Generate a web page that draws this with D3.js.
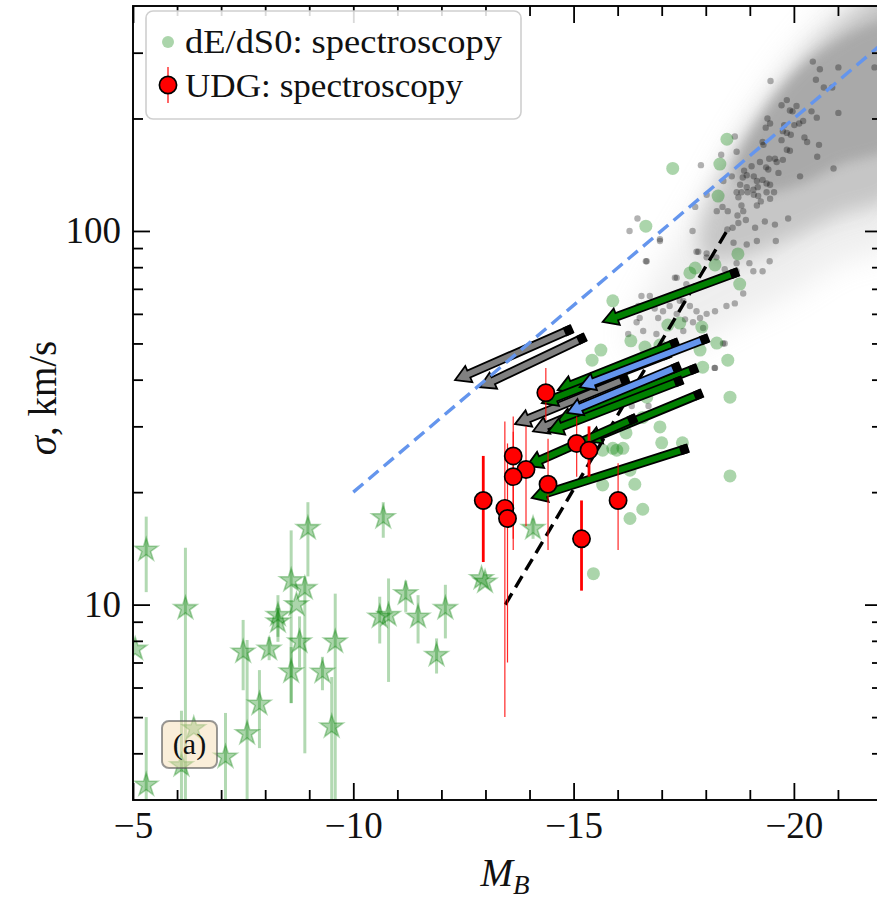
<!DOCTYPE html>
<html>
<head>
<meta charset="utf-8">
<script src="https://cdn.jsdelivr.net/npm/d3@7"></script>
<style>
  body { margin: 0; background: #fff; }
  text { font-family: "Liberation Serif", "DejaVu Serif", serif; fill: #111; }
</style>
</head>
<body>
<svg id="chart" width="877" height="899"></svg>
<script>
// ---------------- data ----------------
// Giant early-type galaxies (individual measurements): [M_B, sigma km/s]
const giantDots = [
  [-20.43,284],[-20.59,271],[-21.01,274],[-21.83,274],[-20.50,254],[-20.68,242],[-20.87,242],[-19.47,252],
  [-21.01,207],[-19.84,224],[-19.72,217],[-19.91,210],[-20.06,216],[-19.97,209],[-19.40,200],[-19.36,189],
  [-19.46,194],[-19.78,192],[-19.75,185],[-19.84,183],[-19.93,181],[-20.01,192],[-20.12,194],[-20.21,197],
  [-20.40,209],[-20.52,201],[-20.24,178],[-20.30,173],[-20.57,170],[-20.53,158],[-20.90,147],[-20.14,140],
  [-19.87,108],[-19.84,165],[-19.91,164],[-19.72,175],[-19.57,156],[-19.61,153],[-19.75,155],[-19.44,156],
  [-19.37,148],[-19.42,146],[-19.29,173],[-19.31,170],[-19.23,153],[-19.65,143],[-19.04,149],[-18.87,145],
  [-18.84,139],[-18.93,141],[-19.09,140],[-19.16,136],[-19.29,137],[-19.38,134],[-19.46,133],[-19.55,127],
  [-19.18,131],[-19.08,129],[-18.93,131],[-18.78,133],[-18.70,127],[-18.74,123],[-18.81,127],[-18.95,127],
  [-19.09,125],[-19.19,124],[-19.38,127],[-19.46,122],[-19.25,120],[-19.16,117],[-18.81,117],[-18.66,179],
  [-18.70,163],[-18.35,160],[-17.89,150],[-18.40,136],[-18.59,140],[-18.02,125],[-17.76,116],[-18.25,113],
  [-18.38,116],[-18.50,113],[-18.72,110],[-18.85,113],[-18.91,107],[-18.74,105],[-18.61,102],[-18.49,101],
  [-19.12,102],[-19.34,106],[-19.57,104],[-19.16,94],[-19.59,94],[-18.93,92],[-18.63,93],[-17.70,100],
  [-16.96,94],[-16.45,108],[-16.27,100],
  [-17.83,88],[-18.02,85],[-18.70,82],[-18.99,82],[-19.45,83],[-19.08,78],[-16.64,83],[-17.34,75],
  [-17.56,72],[-18.70,78],[-19.29,78],[-18.43,79],[-16.66,83],[-16.96,95],[-17.30,75],[-17.79,88],
  [-18.02,87],[-17.49,65],[-18.24,85],[-18.39,50],[-18.20,43],
  [-16.54,67],[-16.73,67],[-16.47,63],[-16.62,63],[-16.84,62],[-17.03,61],[-17.18,63],[-17.41,65],
  [-17.64,63],[-17.79,61],[-17.87,58.5],[-18.02,60],[-18.21,61],[-18.47,63],[-18.66,64],[-18.85,68],
  [-16.50,58.5],[-16.92,58.5],[-17.34,60],[-17.53,58],[-17.71,57],[-17.94,55],[-16.43,57],[-16.24,53],
  [-16.58,54],[-16.88,53],[-17.49,54],[-18.43,50],[-18.21,43],[-16.32,34],[-16.70,34]
];

// Density envelope of the large galaxy sample: outer haze, middle, core
const cloudOuter = [[-16.28,52.7],[-16.96,78.6],[-17.87,120],[-18.77,186],[-19.68,270],[-20.59,367],
  [-21.27,450],[-22.4,450],[-22.4,95],[-21.04,82],[-19.91,67.4],[-18.77,57.8],[-17.64,49.5],[-16.5,46.6]];
const cloudMiddle = [[-17.87,101],[-18.55,155],[-19.45,224],[-20.36,305],[-21.27,378],[-22.4,450],
  [-22.4,129],[-21.04,110],[-19.91,95],[-18.77,84],[-17.98,84]];
const cloudCore = [[-18.66,141],[-19.23,198],[-20.13,270],[-21.04,325],[-21.88,363],[-22.4,378],
  [-22.4,175],[-21.04,150],[-20.13,133],[-19.23,127]];

// dE/dS0 spectroscopy: [M_B, sigma]
const dEdS0 = [
  [-18.48,176],[-17.25,147],[-18.32,151],[-18.28,124],[-16.64,103],[-15.89,65.0],[-18.73,86.8],[-17.76,79.6],
  [-18.21,81.1],[-17.64,77.2],[-18.77,72.1],[-16.30,50.8],[-15.62,48.0],[-15.42,45.1],[-16.62,48.9],[-16.96,49.5],
  [-17.14,56.0],[-17.41,56.7],[-17.91,55.3],[-17.87,48.0],[-18.50,45.1],[-18.25,50.1],[-17.93,43.2],[-18.55,35.9],
  [-16.13,39.9],[-16.66,35.9],[-16.57,31.7],[-16.96,29.9],[-16.19,28.8],[-15.89,26.2],[-16.12,26.2],[-15.66,25.9],
  [-15.98,25.9],[-17.00,27.1],[-17.47,27.1],[-16.28,22.9],[-16.39,21.0],[-15.66,20.9],[-18.55,22.1],[-16.57,18.0],
  [-16.28,17.0],[-15.45,12.1]
];

// Dwarf spheroidals: [M_B, sigma, sigma_low, sigma_high] (null = no error bar)
const dwarfStars = [
  [-5.30,14.0,10.8,17.2],[-5.05,7.6,null,null],[-6.19,9.77,2.5,14.2],[-5.30,3.29,2.5,5.0],
  [-6.10,3.71,2.5,5.2],[-6.38,4.66,null,null],[-7.10,3.91,2.5,5.13],[-7.50,7.47,5.9,9.1],
  [-7.59,4.52,2.5,8.04],[-7.87,5.42,4.13,6.68],[-8.09,7.6,7.1,8.2],[-8.29,9.37,7.95,10.6],
  [-8.29,9.0,8.2,9.8],[-8.59,11.6,5.45,15.8],[-8.90,11.05,4.0,11.9],[-8.71,10.0,null,null],
  [-8.59,6.61,5.45,7.7],[-8.78,7.95,6.8,9.3],[-8.97,16.0,11.9,18.8],[-9.30,6.6,5.9,7.25],
  [-9.59,7.95,2.5,10.7],[-9.51,4.71,2.5,6.4],[-10.60,9.27,7.87,10.5],[-10.68,17.1,15.1,18.8],
  [-10.80,9.37,6.21,11.75],[-11.19,10.7,9.56,11.6],[-11.47,9.27,7.87,10.6],[-11.89,7.32,6.54,8.12],
  [-12.09,9.77,8.12,11.3],[-12.91,11.75,null,null],[-12.99,11.5,null,null],[-14.08,16.0,15.0,17.0]
];

// UDG spectroscopy: [M_B, sigma, sigma_low, sigma_high]
const udgSampleA = [
  [-14.37,36.9,31.2,43.0],[-13.63,25.0,14.0,31.9],[-13.92,23.0,16.2,30.0],[-13.63,22.0,15.0,29.0],
  [-13.44,18.1,5.0,30.9],[-13.50,17.0,7.0,27.0],[-14.42,21.0,14.0,27.8],[-15.07,27.0,22.0,31.9],
  [-16.01,19.0,14.0,23.9]
];
const udgSampleB = [
  [-12.95,19.0,13.0,25.0],[-15.35,25.9,22.0,30.0],[-15.18,15.0,10.9,19.0]
];

// Evolutionary tracks: [M_B start, sigma start, M_B end, sigma end]
const tracksGreen = [
  [-18.73,77.7,-15.66,57.1],[-17.37,50.4,-14.64,37.5],[-17.19,47.1,-14.28,34.6],[-17.80,43.0,-14.62,30.8],
  [-17.46,39.9,-14.42,29.0],[-17.91,36.8,-15.28,27.4],[-16.41,31.6,-13.94,23.5],[-17.59,26.2,-14.05,19.3]
];
const tracksGray = [
  [-14.96,54.7,-12.31,39.9],[-15.26,52.0,-12.87,38.2],[-16.23,40.4,-13.67,30.4],[-16.62,38.9,-14.08,29.1]
];
const tracksBlue = [
  [-18.05,51.7,-15.14,38.2],[-17.41,43.5,-14.85,32.6]
];

// Reference relations
const faberJackson = [[-10, 20.0], [-22, 317]];
const dwarfRelation = [[-13.45, 10.0], [-18.5, 101]];

// Axis ticks
const xMajor = [-5, -10, -15, -20];
const xMinor = d3.range(-6, -22, -1).filter(v => v % 5 !== 0);
const yMajor = [10, 100];
const yMinor = [4, 5, 6, 7, 8, 9, 20, 30, 40, 50, 60, 70, 80, 90, 200, 300];

// ---------------- scales ----------------
const svg = d3.select("#chart");
const L = 133, R = 882, T = 6, B = 800;
const x = d3.scaleLinear().domain([-5, -22]).range([L, R]);
const y = d3.scaleLog().domain([3, 400]).range([B, T]);

const defs = svg.append("defs");
defs.append("clipPath").attr("id", "plotClip")
  .append("rect").attr("x", L).attr("y", T).attr("width", R - L).attr("height", B - T);
[["blurOuter", 15], ["blurMid", 10], ["blurCore", 6]].forEach(([id, s]) => {
  defs.append("filter").attr("id", id)
    .attr("x", "-30%").attr("y", "-30%").attr("width", "160%").attr("height", "160%")
    .append("feGaussianBlur").attr("stdDeviation", s);
});

const plot = svg.append("g").attr("clip-path", "url(#plotClip)");
const poly = d3.line().x(d => x(d[0])).y(d => y(d[1])).curve(d3.curveCatmullRomClosed);

// gray cloud of large galaxies
plot.append("path").attr("d", poly(cloudOuter)).attr("fill", "#b4b4b4").attr("opacity", 0.22).attr("filter", "url(#blurOuter)");
plot.append("path").attr("d", poly(cloudMiddle)).attr("fill", "#acacac").attr("opacity", 0.6).attr("filter", "url(#blurMid)");
plot.append("path").attr("d", poly(cloudCore)).attr("fill", "#a8a8a8").attr("opacity", 0.95).attr("filter", "url(#blurCore)");

// individual giant galaxies
plot.append("g").selectAll("circle").data(giantDots).join("circle")
  .attr("cx", d => x(d[0])).attr("cy", d => y(d[1])).attr("r", 3.2)
  .attr("fill", "#000").attr("fill-opacity", 0.3);

// dE/dS0
plot.append("g").selectAll("circle").data(dEdS0).join("circle")
  .attr("cx", d => x(d[0])).attr("cy", d => y(d[1])).attr("r", 6.5)
  .attr("fill", "green").attr("fill-opacity", 0.33);

// dwarf spheroidals with error bars
plot.append("g").selectAll("line").data(dwarfStars.filter(d => d[2] !== null)).join("line")
  .attr("x1", d => x(d[0])).attr("x2", d => x(d[0]))
  .attr("y1", d => y(d[2])).attr("y2", d => y(d[3]))
  .attr("stroke", "green").attr("stroke-opacity", 0.3).attr("stroke-width", 3);
const star = d3.symbol(d3.symbolStar).size(165);
plot.append("g").selectAll("path").data(dwarfStars).join("path")
  .attr("d", star).attr("transform", d => `translate(${x(d[0])},${y(d[1])})`)
  .attr("fill", "green").attr("fill-opacity", 0.33)
  .attr("stroke", "green").attr("stroke-opacity", 0.32).attr("stroke-width", 1.6);

// dwarf relation (black dashed)
const seg = d3.line().x(d => x(d[0])).y(d => y(d[1]));
plot.append("path").attr("d", seg(dwarfRelation)).attr("fill", "none")
  .attr("stroke", "#000").attr("stroke-width", 3.4).attr("stroke-dasharray", "13,7");

// arrows
function arrowPath(t) {
  const x0 = x(t[0]), y0 = y(t[1]), x1 = x(t[2]), y1 = y(t[3]);
  const dx = x1 - x0, dy = y1 - y0, len = Math.hypot(dx, dy);
  const ux = dx / len, uy = dy / len, nx = -uy, ny = ux;
  const w = 3.8, hw = 8.8, hl = 15;
  const bx = x1 - ux * hl, by = y1 - uy * hl;
  const pts = [
    [x0 + nx * w, y0 + ny * w], [bx + nx * w, by + ny * w], [bx + nx * hw, by + ny * hw],
    [x1, y1], [bx - nx * hw, by - ny * hw], [bx - nx * w, by - ny * w], [x0 - nx * w, y0 - ny * w]
  ];
  return "M" + pts.map(p => p.join(",")).join("L") + "Z";
}
function drawTracks(data, color) {
  const g = plot.append("g");
  data.forEach(t => {
    g.append("path").attr("d", arrowPath(t)).attr("fill", color)
      .attr("stroke", "#000").attr("stroke-width", 1.8).attr("stroke-linejoin", "miter");
    const x0 = x(t[0]), y0 = y(t[1]), x1 = x(t[2]), y1 = y(t[3]);
    const len = Math.hypot(x1 - x0, y1 - y0);
    const ux = (x1 - x0) / len, uy = (y1 - y0) / len;
    g.append("line").attr("x1", x0).attr("y1", y0)
      .attr("x2", x0 + ux * 8).attr("y2", y0 + uy * 8)
      .attr("stroke", "#000").attr("stroke-width", 9.4);
  });
}
drawTracks(tracksGray, "#808080");
drawTracks(tracksGreen, "#008000");
drawTracks(tracksBlue, "#6495ED");

// Faber–Jackson relation (blue dashed)
plot.append("path").attr("d", seg(faberJackson)).attr("fill", "none")
  .attr("stroke", "#6495ED").attr("stroke-width", 3.4).attr("stroke-dasharray", "13,7");

// UDGs
function drawUDG(data, bw, op) {
  plot.append("g").selectAll("line").data(data).join("line")
    .attr("x1", d => x(d[0])).attr("x2", d => x(d[0]))
    .attr("y1", d => y(d[2])).attr("y2", d => y(d[3]))
    .attr("stroke", "red").attr("stroke-width", bw).attr("stroke-opacity", op);
}
drawUDG(udgSampleA, 1.2, 0.85);
drawUDG(udgSampleB, 2.8, 1);
plot.append("g").selectAll("circle").data(udgSampleA.concat(udgSampleB)).join("circle")
  .attr("cx", d => x(d[0])).attr("cy", d => y(d[1])).attr("r", 8.6)
  .attr("fill", "red").attr("stroke", "#000").attr("stroke-width", 1.7);

// ---------------- axes ----------------
const fmtX = d => "\u2212" + Math.abs(d);
function styleAxis(g) {
  g.select(".domain").remove();
  g.selectAll(".tick line").attr("stroke", "#000").attr("stroke-width", 1.8);
}
const fs = 37;
svg.append("g").attr("transform", `translate(0,${B})`)
  .call(d3.axisBottom(x).tickValues(xMajor).tickSize(-17).tickPadding(12).tickFormat(fmtX))
  .call(styleAxis)
  .call(g => g.selectAll("text").attr("font-size", fs).attr("font-family", "Liberation Serif").attr("fill", "#111"));
svg.append("g").attr("transform", `translate(0,${B})`)
  .call(d3.axisBottom(x).tickValues(xMinor).tickSize(-10).tickFormat("")).call(styleAxis);
svg.append("g").attr("transform", `translate(0,${T})`)
  .call(d3.axisTop(x).tickValues(xMajor).tickSize(-17).tickFormat("")).call(styleAxis);
svg.append("g").attr("transform", `translate(0,${T})`)
  .call(d3.axisTop(x).tickValues(xMinor).tickSize(-10).tickFormat("")).call(styleAxis);

svg.append("g").attr("transform", `translate(${L},0)`)
  .call(d3.axisLeft(y).tickValues(yMajor).tickSize(-17).tickPadding(12).tickFormat(d3.format("d")))
  .call(styleAxis)
  .call(g => g.selectAll("text").attr("font-size", fs).attr("font-family", "Liberation Serif").attr("fill", "#111"));
svg.append("g").attr("transform", `translate(${L},0)`)
  .call(d3.axisLeft(y).tickValues(yMinor).tickSize(-10).tickFormat("")).call(styleAxis);
svg.append("g").attr("transform", `translate(${R},0)`)
  .call(d3.axisRight(y).tickValues(yMajor).tickSize(-17).tickFormat("")).call(styleAxis);
svg.append("g").attr("transform", `translate(${R},0)`)
  .call(d3.axisRight(y).tickValues(yMinor).tickSize(-10).tickFormat("")).call(styleAxis);

// frame
svg.append("rect").attr("x", L).attr("y", T).attr("width", R - L).attr("height", B - T)
  .attr("fill", "none").attr("stroke", "#000").attr("stroke-width", 1.9);

// axis titles
const xt = svg.append("text").attr("x", 505).attr("y", 886).attr("text-anchor", "middle").attr("font-size", 39);
xt.append("tspan").attr("font-style", "italic").text("M");
xt.append("tspan").attr("font-style", "italic").attr("font-size", 27).attr("dy", 8).text("B");

const yt = svg.append("text").attr("transform", "translate(56,398) rotate(-90)")
  .attr("text-anchor", "middle").attr("font-size", 39);
yt.append("tspan").attr("font-style", "italic").text("\u03c3");
yt.append("tspan").text(", km/s");

// ---------------- legend ----------------
const lg = svg.append("g");
lg.append("rect").attr("x", 146).attr("y", 11).attr("width", 375).attr("height", 108).attr("rx", 7)
  .attr("fill", "#fff").attr("fill-opacity", 0.85).attr("stroke", "#cfcfcf").attr("stroke-width", 1.6);
lg.append("circle").attr("cx", 168).attr("cy", 42).attr("r", 6).attr("fill", "green").attr("fill-opacity", 0.33);
lg.append("text").attr("x", 185).attr("y", 53).attr("font-size", 33)
  .attr("textLength", 317).attr("lengthAdjust", "spacingAndGlyphs").text("dE/dS0: spectroscopy");
lg.append("line").attr("x1", 168).attr("x2", 168).attr("y1", 67).attr("y2", 103)
  .attr("stroke", "red").attr("stroke-width", 1.2);
lg.append("circle").attr("cx", 168).attr("cy", 85).attr("r", 8.6)
  .attr("fill", "red").attr("stroke", "#000").attr("stroke-width", 1.7);
lg.append("text").attr("x", 185).attr("y", 97).attr("font-size", 33)
  .attr("textLength", 278).attr("lengthAdjust", "spacingAndGlyphs").text("UDG: spectroscopy");

// panel tag
svg.append("rect").attr("x", 162).attr("y", 721).attr("width", 55).attr("height", 47).attr("rx", 7)
  .attr("fill", "#f5deb3").attr("fill-opacity", 0.5).attr("stroke", "#555").attr("stroke-opacity", 0.6).attr("stroke-width", 2);
svg.append("text").attr("x", 189.5).attr("y", 754).attr("text-anchor", "middle").attr("font-size", 30).text("(a)");
</script>
</body>
</html>
